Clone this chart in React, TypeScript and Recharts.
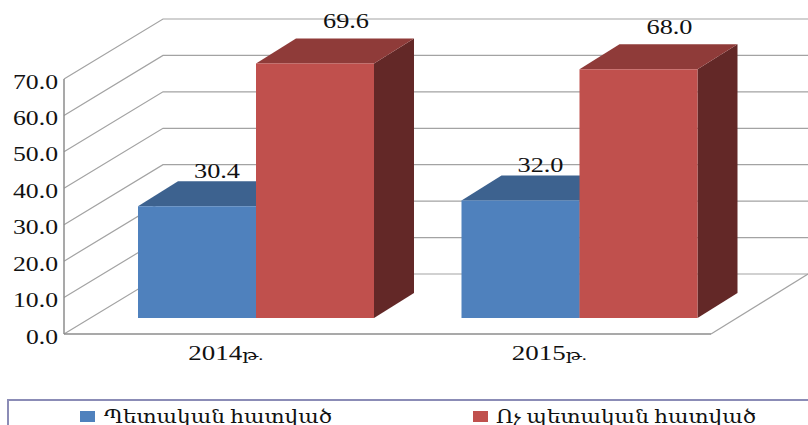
import { Bar, BarChart, CartesianGrid, LabelList, Legend, XAxis, YAxis } from 'recharts'

const categories = ['2014թ.', '2015թ.']
const publicSector = [30.4, 32.0]
const privateSector = [69.6, 68.0]
const yTicks = [0, 10, 20, 30, 40, 50, 60, 70]
const publicName = 'Պետական հատված'
const privateName = 'Ոչ պետական հատված'

const chartData = categories.map((year, i) => ({
  year,
  publicSector: publicSector[i],
  privateSector: privateSector[i],
}))

const FONT = "'Liberation Serif', 'DejaVu Serif', serif"
const TEXT_COLOR = '#111111'
const GRID_COLOR = '#a3a3a3'
const AXIS_COLOR = '#8c8c8c'

// fake 3D: the walls go back by WALL_*, each bar has a box depth of BOX_*
const WALL_X = 99
const WALL_Y = 60
const RIGHT_END = 97
const BAR_SHIFT_X = 30
const BAR_SHIFT_TOP = 17
const BAR_SHIFT_BOTTOM = 16
const BOX_X = 40
const BOX_Y = 25

function makeBox(front: string, top: string, side: string) {
  return function Box(props: any) {
    const { x, y, width, height } = props
    const l = x + BAR_SHIFT_X
    const r = l + width
    const t = y - BAR_SHIFT_TOP
    const b = y + height - BAR_SHIFT_BOTTOM
    return (
      <g>
        <path d={`M${r} ${t}L${r + BOX_X} ${t - BOX_Y}V${b - BOX_Y}L${r} ${b}Z`} fill={side} />
        <path d={`M${l} ${t}L${l + BOX_X} ${t - BOX_Y}H${r + BOX_X}L${r} ${t}Z`} fill={top} />
        <rect x={l} y={t} width={width} height={b - t} fill={front} />
      </g>
    )
  }
}

function gridLine(props: any) {
  const { x1, x2, y1, index } = props
  const backY = y1 - WALL_Y
  return (
    <g key={index}>
      <path
        d={`M${x1} ${y1}L${x1 + WALL_X} ${backY}H${x2 + RIGHT_END}`}
        fill="none"
        stroke={GRID_COLOR}
        strokeWidth={1.2}
      />
      {index === 0 && (
        <path d={`M${x2} ${y1}L${x2 + RIGHT_END} ${backY}`} fill="none" stroke={GRID_COLOR} strokeWidth={1.2} />
      )}
    </g>
  )
}

function YTick({ x, y, payload }: any) {
  const label = Number(payload.value).toFixed(1)
  return (
    <text
      x={x}
      y={y + 9.5}
      textAnchor="end"
      fontFamily={FONT}
      fontSize={20}
      fill={TEXT_COLOR}
      textLength={label.length === 3 ? 32 : 45}
      lengthAdjust="spacingAndGlyphs"
    >
      {label}
    </text>
  )
}

function XTick({ x, y, payload }: any) {
  const label = String(payload.value)
  return (
    <text
      x={x}
      y={y + 18}
      textAnchor="middle"
      fontFamily={FONT}
      fontSize={20}
      fill={TEXT_COLOR}
      textLength={75}
      lengthAdjust="spacingAndGlyphs"
    >
      {label.slice(0, 4)}
      <tspan fontSize={15}>{label.slice(4)}</tspan>
    </text>
  )
}

function makeValueLabel(shiftX: number, shiftY: number) {
  return function ValueLabel(props: any) {
    const { x, y, width, value } = props
    return (
      <text
        x={x + width / 2 + BAR_SHIFT_X + shiftX}
        y={y - BAR_SHIFT_TOP + shiftY}
        textAnchor="middle"
        fontFamily={FONT}
        fontSize={20}
        fill={TEXT_COLOR}
        textLength={46}
        lengthAdjust="spacingAndGlyphs"
      >
        {Number(value).toFixed(1)}
      </text>
    )
  }
}

const legendSlots = [
  { swatchX: 80, textX: 104, textWidth: 228 },
  { swatchX: 473, textX: 496, textWidth: 260 },
]

function LegendBox({ payload }: any) {
  return (
    <svg width={808} height={30} style={{ display: 'block' }}>
      <path d="M8 31V5H810" fill="none" stroke="#8b8cb6" strokeWidth={2} />
      {(payload ?? []).map((item: any, i: number) => (
        <g key={item.value}>
          <rect x={legendSlots[i].swatchX} y={16} width={15} height={11} fill={item.color} />
          <text
            x={legendSlots[i].textX}
            y={28}
            fontFamily={FONT}
            fontSize={19}
            fill={TEXT_COLOR}
            textLength={legendSlots[i].textWidth}
            lengthAdjust="spacingAndGlyphs"
          >
            {item.value}
          </text>
        </g>
      ))}
    </svg>
  )
}

export default function App() {
  return (
    <div style={{ position: 'absolute', left: 0, top: 0, width: 808, height: 425, overflow: 'hidden', background: '#fff' }}>
      <BarChart
        width={808}
        height={425}
        data={chartData}
        margin={{ top: 79, right: 97, bottom: 0, left: 0 }}
        barSize={118}
        barGap={0}
      >
        <CartesianGrid vertical={false} horizontal={gridLine} />
        <XAxis
          dataKey="year"
          height={91}
          tickLine={false}
          tick={<XTick />}
          axisLine={{ stroke: AXIS_COLOR, strokeWidth: 1.5 }}
        />
        <YAxis
          width={64}
          domain={[0, 70]}
          ticks={yTicks}
          interval={0}
          tickLine={false}
          tick={<YTick />}
          tickMargin={0}
          axisLine={{ stroke: AXIS_COLOR, strokeWidth: 1.5 }}
        />
        <Legend
          layout="horizontal"
          verticalAlign="middle"
          align="center"
          itemSorter={null}
          content={<LegendBox />}
          wrapperStyle={{ left: 0, top: 395, width: 808, height: 30 }}
        />
        <Bar
          dataKey="publicSector"
          name={publicName}
          fill="#4f81bd"
          shape={makeBox('#4f81bd', '#3d628f', '#2f4d70')}
          isAnimationActive={false}
        >
          <LabelList dataKey="publicSector" content={makeValueLabel(20, -28)} />
        </Bar>
        <Bar
          dataKey="privateSector"
          name={privateName}
          fill="#c0504d"
          shape={makeBox('#c0504d', '#8f3b39', '#632827')}
          isAnimationActive={false}
        >
          <LabelList dataKey="privateSector" content={makeValueLabel(31, -35)} />
        </Bar>
      </BarChart>
    </div>
  )
}
